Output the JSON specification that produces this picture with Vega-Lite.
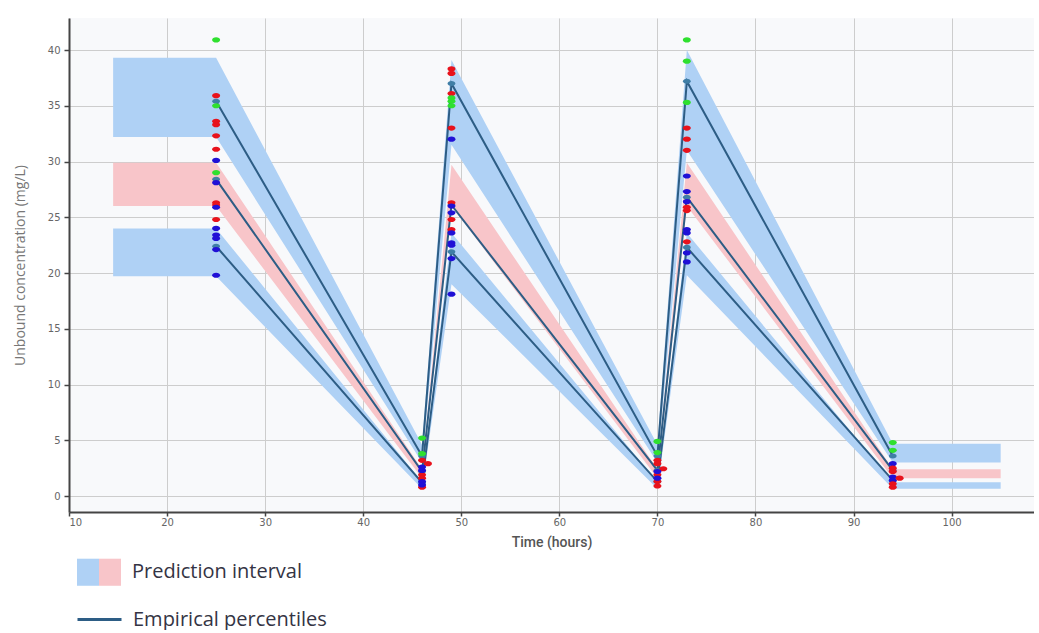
{
  "$schema": "https://vega.github.io/schema/vega-lite/v6.json",
  "width": 965,
  "height": 494,
  "padding": {"left": 13, "top": 18, "right": 0, "bottom": 0},
  "background": "#ffffff",
  "config": {"view": {"fill": "#f8f9fb", "stroke": null}},
  "datasets": {
    "bands": [
      {"band": "upper", "kind": "outer", "t": 14.5, "lo": 32.2, "hi": 39.3},
      {"band": "upper", "kind": "outer", "t": 25, "lo": 32.2, "hi": 39.3},
      {"band": "upper", "kind": "outer", "t": 46, "lo": 3.0, "hi": 4.6},
      {"band": "upper", "kind": "outer", "t": 49, "lo": 31.5, "hi": 39.1},
      {"band": "upper", "kind": "outer", "t": 70, "lo": 3.0, "hi": 4.6},
      {"band": "upper", "kind": "outer", "t": 73, "lo": 31.0, "hi": 40.0},
      {"band": "upper", "kind": "outer", "t": 94, "lo": 3.0, "hi": 4.7},
      {"band": "upper", "kind": "outer", "t": 105, "lo": 3.0, "hi": 4.7},
      {"band": "median", "kind": "median", "t": 14.5, "lo": 26.0, "hi": 29.9},
      {"band": "median", "kind": "median", "t": 25, "lo": 26.0, "hi": 29.9},
      {"band": "median", "kind": "median", "t": 46, "lo": 1.6, "hi": 2.4},
      {"band": "median", "kind": "median", "t": 49, "lo": 26.0, "hi": 29.7},
      {"band": "median", "kind": "median", "t": 70, "lo": 1.6, "hi": 2.4},
      {"band": "median", "kind": "median", "t": 73, "lo": 26.0, "hi": 29.9},
      {"band": "median", "kind": "median", "t": 94, "lo": 1.6, "hi": 2.4},
      {"band": "median", "kind": "median", "t": 105, "lo": 1.6, "hi": 2.4},
      {"band": "lower", "kind": "outer", "t": 14.5, "lo": 19.7, "hi": 24.0},
      {"band": "lower", "kind": "outer", "t": 25, "lo": 19.7, "hi": 24.0},
      {"band": "lower", "kind": "outer", "t": 46, "lo": 0.65, "hi": 1.25},
      {"band": "lower", "kind": "outer", "t": 49, "lo": 19.0, "hi": 23.6},
      {"band": "lower", "kind": "outer", "t": 70, "lo": 0.65, "hi": 1.25},
      {"band": "lower", "kind": "outer", "t": 73, "lo": 19.8, "hi": 23.6},
      {"band": "lower", "kind": "outer", "t": 94, "lo": 0.65, "hi": 1.23},
      {"band": "lower", "kind": "outer", "t": 105, "lo": 0.65, "hi": 1.23}
    ],
    "lines": [
      {"pct": "p90", "series": "Empirical percentiles", "t": 25, "v": 35.4},
      {"pct": "p90", "series": "Empirical percentiles", "t": 46, "v": 3.6},
      {"pct": "p90", "series": "Empirical percentiles", "t": 49, "v": 37.0},
      {"pct": "p90", "series": "Empirical percentiles", "t": 70, "v": 3.6},
      {"pct": "p90", "series": "Empirical percentiles", "t": 73, "v": 37.2},
      {"pct": "p90", "series": "Empirical percentiles", "t": 94, "v": 3.6},
      {"pct": "p50", "series": "Empirical percentiles", "t": 25, "v": 28.4},
      {"pct": "p50", "series": "Empirical percentiles", "t": 46, "v": 2.2},
      {"pct": "p50", "series": "Empirical percentiles", "t": 49, "v": 26.1},
      {"pct": "p50", "series": "Empirical percentiles", "t": 70, "v": 2.3},
      {"pct": "p50", "series": "Empirical percentiles", "t": 73, "v": 26.8},
      {"pct": "p50", "series": "Empirical percentiles", "t": 94, "v": 2.3},
      {"pct": "p10", "series": "Empirical percentiles", "t": 25, "v": 22.4},
      {"pct": "p10", "series": "Empirical percentiles", "t": 46, "v": 1.2},
      {"pct": "p10", "series": "Empirical percentiles", "t": 49, "v": 21.9},
      {"pct": "p10", "series": "Empirical percentiles", "t": 70, "v": 1.3},
      {"pct": "p10", "series": "Empirical percentiles", "t": 73, "v": 22.3},
      {"pct": "p10", "series": "Empirical percentiles", "t": 94, "v": 1.4}
    ],
    "obs": [
      {"t": 25, "v": 40.9, "g": "A"}, {"t": 25, "v": 35.0, "g": "A"}, {"t": 25, "v": 29.0, "g": "A"},
      {"t": 25, "v": 35.9, "g": "B"}, {"t": 25, "v": 33.6, "g": "B"}, {"t": 25, "v": 33.3, "g": "B"},
      {"t": 25, "v": 32.3, "g": "B"}, {"t": 25, "v": 31.1, "g": "B"}, {"t": 25, "v": 26.3, "g": "B"},
      {"t": 25, "v": 26.1, "g": "B"}, {"t": 25, "v": 24.8, "g": "B"},
      {"t": 25, "v": 30.1, "g": "C"}, {"t": 25, "v": 28.1, "g": "C"}, {"t": 25, "v": 25.9, "g": "C"},
      {"t": 25, "v": 24.0, "g": "C"}, {"t": 25, "v": 23.4, "g": "C"}, {"t": 25, "v": 23.1, "g": "C"},
      {"t": 25, "v": 22.1, "g": "C"}, {"t": 25, "v": 19.8, "g": "C"},
      {"t": 49, "v": 38.3, "g": "B"}, {"t": 49, "v": 37.9, "g": "B"}, {"t": 49, "v": 36.1, "g": "B"},
      {"t": 49, "v": 33.0, "g": "B"}, {"t": 49, "v": 26.3, "g": "B"}, {"t": 49, "v": 24.8, "g": "B"},
      {"t": 49, "v": 23.9, "g": "B"},
      {"t": 49, "v": 35.7, "g": "A"}, {"t": 49, "v": 35.4, "g": "A"}, {"t": 49, "v": 35.0, "g": "A"},
      {"t": 49, "v": 32.0, "g": "C"}, {"t": 49, "v": 26.0, "g": "C"}, {"t": 49, "v": 25.4, "g": "C"},
      {"t": 49, "v": 23.6, "g": "C"}, {"t": 49, "v": 22.7, "g": "C"}, {"t": 49, "v": 22.5, "g": "C"},
      {"t": 49, "v": 21.3, "g": "C"}, {"t": 49, "v": 18.1, "g": "C"},
      {"t": 73, "v": 40.9, "g": "A"}, {"t": 73, "v": 39.0, "g": "A"}, {"t": 73, "v": 35.3, "g": "A"},
      {"t": 73, "v": 33.0, "g": "B"}, {"t": 73, "v": 32.0, "g": "B"}, {"t": 73, "v": 31.0, "g": "B"},
      {"t": 73, "v": 25.9, "g": "B"}, {"t": 73, "v": 25.6, "g": "B"}, {"t": 73, "v": 22.8, "g": "B"},
      {"t": 73, "v": 28.7, "g": "C"}, {"t": 73, "v": 27.3, "g": "C"}, {"t": 73, "v": 26.4, "g": "C"},
      {"t": 73, "v": 23.9, "g": "C"}, {"t": 73, "v": 23.6, "g": "C"}, {"t": 73, "v": 21.8, "g": "C"},
      {"t": 73, "v": 21.0, "g": "C"},
      {"t": 46, "v": 5.2, "g": "A"}, {"t": 46, "v": 3.8, "g": "A"},
      {"t": 46, "v": 3.2, "g": "B"}, {"t": 46, "v": 1.9, "g": "B"}, {"t": 46, "v": 1.6, "g": "B"},
      {"t": 46, "v": 0.8, "g": "B"}, {"t": 46.6, "v": 2.9, "g": "B"},
      {"t": 46, "v": 2.6, "g": "C"}, {"t": 46, "v": 2.3, "g": "C"}, {"t": 46, "v": 1.3, "g": "C"},
      {"t": 46, "v": 1.0, "g": "C"},
      {"t": 70, "v": 4.9, "g": "A"}, {"t": 70, "v": 3.9, "g": "A"},
      {"t": 70, "v": 3.2, "g": "B"}, {"t": 70, "v": 2.9, "g": "B"}, {"t": 70, "v": 1.9, "g": "B"},
      {"t": 70, "v": 1.3, "g": "B"}, {"t": 70, "v": 0.9, "g": "B"}, {"t": 70.6, "v": 2.45, "g": "B"},
      {"t": 70, "v": 2.2, "g": "C"}, {"t": 70, "v": 1.6, "g": "C"},
      {"t": 94, "v": 4.8, "g": "A"}, {"t": 94, "v": 4.1, "g": "A"},
      {"t": 94, "v": 2.9, "g": "C"}, {"t": 94, "v": 1.7, "g": "C"}, {"t": 94, "v": 1.4, "g": "C"},
      {"t": 94, "v": 2.5, "g": "B"}, {"t": 94, "v": 2.2, "g": "B"}, {"t": 94, "v": 1.1, "g": "B"},
      {"t": 94, "v": 0.8, "g": "B"}, {"t": 94.7, "v": 1.6, "g": "B"}
    ]
  },
  "encoding": {
    "x": {
      "field": "t", "type": "quantitative",
      "scale": {"domain": [10, 108.4], "nice": false, "zero": false},
      "axis": {
        "values": [10, 20, 30, 40, 50, 60, 70, 80, 90, 100],
        "title": "Time (hours)",
        "grid": true, "gridColor": "#cdcdcd", "gridWidth": 1,
        "domainColor": "#444444", "domainWidth": 2,
        "tickColor": "#444444", "tickSize": 4, "tickWidth": 1.5,
        "labelFont": "DejaVu Sans", "labelFontSize": 10, "labelColor": "#666666", "labelPadding": 1,
        "titleFont": "Roboto", "titleFontSize": 14, "titleFontWeight": 500, "titleColor": "#555555", "titlePadding": 8
      }
    },
    "y": {
      "field": "v", "type": "quantitative",
      "scale": {"domain": [-1.43, 42.87], "nice": false, "zero": false},
      "axis": {
        "values": [0, 5, 10, 15, 20, 25, 30, 35, 40],
        "title": "Unbound concentration (mg/L)",
        "grid": true, "gridColor": "#cdcdcd", "gridWidth": 1,
        "domainColor": "#444444", "domainWidth": 2,
        "tickColor": "#444444", "tickSize": 5, "tickWidth": 1.5,
        "labelFont": "DejaVu Sans", "labelFontSize": 10, "labelColor": "#666666", "labelPadding": 4,
        "titleFont": "Open Sans", "titleFontSize": 14, "titleFontWeight": "normal", "titleColor": "#777777", "titlePadding": 20
      }
    }
  },
  "layer": [
    {
      "data": {"name": "bands"},
      "mark": {"type": "area", "opacity": 1, "interpolate": "linear"},
      "encoding": {
        "y": {"field": "lo", "type": "quantitative"},
        "y2": {"field": "hi"},
        "detail": {"field": "band"},
        "fill": {
          "field": "kind", "type": "nominal",
          "scale": {"domain": ["outer", "median"], "range": ["#afd1f5", "#f8c5c9"]},
          "legend": {
            "orient": "none", "legendX": 8, "legendY": 543, "padding": 0,
            "direction": "horizontal", "columns": 2, "title": null,
            "symbolType": "M-1,-1.23H1V1.23H-1Z", "symbolSize": 484, "symbolStrokeWidth": 0, "symbolOpacity": 1,
            "labelExpr": "datum.value == 'median' ? 'Prediction interval' : ''",
            "labelOffset": 0, "columnPadding": 0,
            "labelFont": "Open Sans", "labelFontSize": 20, "labelColor": "#343444", "labelLimit": 400,
            "encode": {"labels": {"update": {"dx": {"signal": "datum.value === 'median' ? 11 : 0"}}}}
          }
        }
      }
    },
    {
      "data": {"name": "lines"},
      "mark": {"type": "line", "strokeWidth": 2},
      "encoding": {
        "detail": {"field": "pct"},
        "stroke": {
          "field": "series", "type": "nominal",
          "scale": {"range": ["#2d5d85"]},
          "legend": {
            "orient": "none", "legendX": 7, "legendY": 578, "padding": 0, "title": null,
            "symbolType": "stroke", "symbolSize": 1936, "symbolStrokeWidth": 3,
            "labelOffset": 10,
            "labelFont": "Open Sans", "labelFontSize": 20, "labelColor": "#343444", "labelLimit": 400
          }
        }
      }
    },
    {
      "data": {"name": "lines"},
      "mark": {"type": "point", "filled": true, "opacity": 1, "size": 60, "color": "#3f7ea6",
               "shape": "M-1,0A1,0.65 0 1,1 1,0A1,0.65 0 1,1 -1,0Z"}
    },
    {
      "data": {"name": "obs"},
      "mark": {"type": "point", "filled": true, "opacity": 1, "size": 64,
               "shape": "M-1,0A1,0.65 0 1,1 1,0A1,0.65 0 1,1 -1,0Z"},
      "encoding": {
        "color": {
          "field": "g", "type": "nominal",
          "scale": {"domain": ["A", "B", "C"], "range": ["#2fe02f", "#e8121c", "#2010d6"]},
          "legend": null
        }
      }
    }
  ]
}
